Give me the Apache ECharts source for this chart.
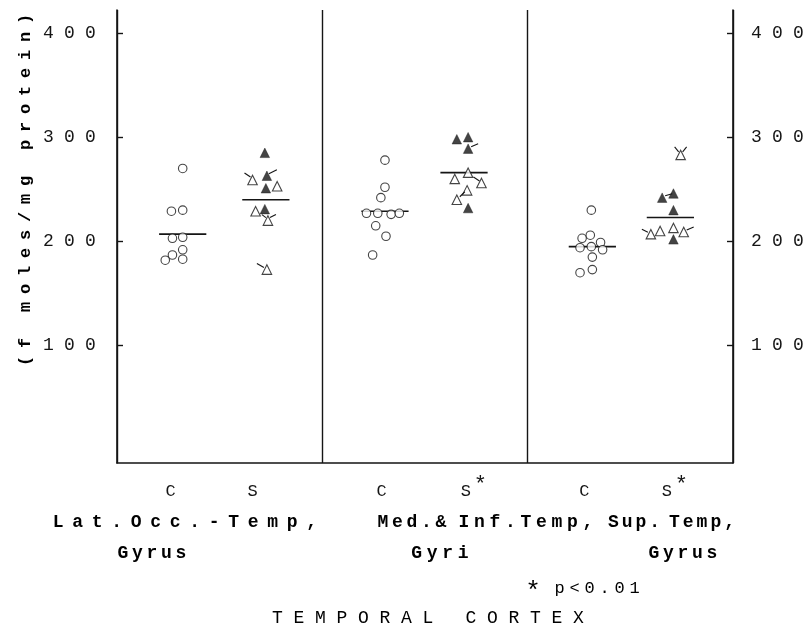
<!DOCTYPE html>
<html>
<head>
<meta charset="utf-8">
<script src="https://cdn.jsdelivr.net/npm/echarts@6/dist/echarts.min.js"></script>
<style>
  html, body { margin: 0; padding: 0; background: #fff; }
  #chart { width: 810px; height: 629px; }
</style>
</head>
<body>
<div id="chart"></div>
<script>
// group labels and where they sit on the x scale (0..6, two units per region)
const groupNames = ['C', 'S', 'C', 'S*', 'C', 'S*'];
const groupLabelX = [0.526, 1.325, 2.581, 3.466, 4.558, 5.425];
const groupCenters = [0.64, 1.45, 2.61, 3.38, 4.63, 5.39];
const groupMeans = [207, 240, 229, 266, 195, 223];
const yTicks = [100, 200, 300, 400];

const regionRow1 = ['Lat.Occ.-Temp,', 'Med.&', 'Inf.Temp,', 'Sup.', 'Temp,'];
const regionRow2 = ['Gyrus', 'Gyri', 'Gyrus'];
const yName = '(f moles/mg protein)';
const footNote = 'p<0.01';
const bottomTitle = 'TEMPORAL CORTEX';

// controls (open circles)
const c1Values = [270, 229, 230, 203, 204, 192, 187, 183, 182];
const c1Offsets = [0.00, -0.11, 0.00, -0.10, 0.00, 0.00, -0.10, 0.00, -0.17];
const c2Values = [278, 252, 242, 227, 227, 226, 227, 215, 205, 187];
const c2Offsets = [0.00, 0.00, -0.04, -0.18, -0.07, 0.06, 0.14, -0.09, 0.01, -0.12];
const c3Values = [230, 203, 206, 199, 194, 195, 192, 185, 170, 173];
const c3Offsets = [-0.01, -0.10, -0.02, 0.08, -0.12, -0.01, 0.10, 0.00, -0.12, 0.00];

// schizophrenics: filled and open triangles
const s1Filled = [285, 263, 251, 231];
const s1FilledOffsets = [-0.01, 0.01, 0.00, -0.01];
const s1Open = [259, 253, 229, 220, 173];
const s1OpenOffsets = [-0.13, 0.11, -0.10, 0.02, 0.01];
const s2Filled = [298, 300, 289, 232];
const s2FilledOffsets = [-0.07, 0.04, 0.04, 0.04];
const s2Open = [260, 266, 256, 249, 240];
const s2OpenOffsets = [-0.09, 0.04, 0.17, 0.03, -0.07];
const s3Filled = [242, 246, 230, 202];
const s3FilledOffsets = [-0.08, 0.03, 0.03, 0.03];
const s3Open = [207, 210, 213, 209, 283];
const s3OpenOffsets = [-0.19, -0.10, 0.03, 0.13, 0.10];

const ink = '#151515';
const font = 'Liberation Mono';
const pxPerX = 616 / 6;      // grid width / x range
const pxPerY = 453 / 434.5;  // grid height / y range

function pts(center, values, offsets) {
  return values.map((v, i) => [center + offsets[i], v]);
}
// typewriter look: every character gets its own fixed-width box
function spaced(s, cls) {
  return s.split('').map(ch => '{' + cls + '|' + ch + '}').join('');
}
const box = (w, size, bold, extra) => Object.assign({
  width: w, align: 'center', fontFamily: font, fontSize: size,
  fontWeight: bold ? 'bold' : 'normal', color: ink
}, extra || {});
const richChars = {
  d: box(21, 18, false),
  g: box(15, 17, false, { lineHeight: 16, verticalAlign: 'bottom' }),
  st: { width: 14, align: 'center', fontFamily: font, fontSize: 22, color: ink, lineHeight: 26, verticalAlign: 'top' },
  sp: { width: 1, lineHeight: 26, verticalAlign: 'top' },
  y: box(18, 17, true),
  r20: box(19.5, 18, true),
  r16: box(15.5, 18, true),
  r15: box(14.5, 18, true),
  r14: box(13.8, 18, true),
  t: box(21.5, 18, false),
  f: box(15, 17, false),
  fs: box(16, 26, false)
};

function groupLabel(name) {
  if (name.endsWith('*')) return spaced(name.slice(0, -1), 'g') + '{st|*}';
  return spaced(name, 'g') + '{sp| }';
}

const scatter = (name, data, symbol, filled) => ({
  name, type: 'scatter', data, symbol,
  symbolSize: symbol === 'circle' ? 8.5 : 9.5,
  itemStyle: filled
    ? { color: ink, borderColor: ink, borderWidth: 0.5 }
    : { color: '#fff', borderColor: ink, borderWidth: 1.1 },
  z: 3
});

const meanLines = groupMeans.map((m, i) => ({
  type: 'line', symbol: 'none', silent: true,
  data: [[groupCenters[i] - 0.23, m], [groupCenters[i] + 0.23, m]],
  lineStyle: { color: ink, width: 1.6 }, z: 2
}));

// little hand-drawn strokes some triangles carry: [point, from dx/dy, to dx/dy] in px
const s1F = pts(groupCenters[1], s1Filled, s1FilledOffsets);
const s1O = pts(groupCenters[1], s1Open, s1OpenOffsets);
const s2F = pts(groupCenters[3], s2Filled, s2FilledOffsets);
const s2O = pts(groupCenters[3], s2Open, s2OpenOffsets);
const s3F = pts(groupCenters[5], s3Filled, s3FilledOffsets);
const s3O = pts(groupCenters[5], s3Open, s3OpenOffsets);
const strokes = [
  [s1F[1], 2, -2, 10, -6], [s1O[0], -2, -3, -8, -7], [s1O[3], 2, -3, 8, -6],
  [s1O[3], -2, -3, -6, -6], [s1O[4], -3, -2, -10, -6],
  [s2F[2], 3, -2, 10, -5], [s2O[2], -2, -2, -8, -6], [s2O[4], 3, -3, 8, -8],
  [s3F[0], 3, -2, 10, -4], [s3O[0], -3, -2, -9, -5], [s3O[3], 3, -2, 10, -5],
  [s3O[4], -2, -3, -6, -8], [s3O[4], 2, -3, 6, -8]
].map(([p, ax, ay, bx, by]) => ({
  coords: [[p[0] + ax / pxPerX, p[1] - ay / pxPerY], [p[0] + bx / pxPerX, p[1] - by / pxPerY]]
}));

const chart = echarts.init(document.getElementById('chart'));

const textEl = (x, y, str, cls, rotation) => ({
  type: 'text', x, y, rotation: rotation || 0,
  style: { text: spaced(str, cls), rich: richChars, align: 'center', verticalAlign: 'middle' }
});

chart.setOption({
  animation: false,
  backgroundColor: '#fff',
  grid: { left: 117, right: 77, top: 10, bottom: 166 },
  xAxis: {
    type: 'value', min: 0, max: 6, interval: 2,
    axisLine: { onZero: false, lineStyle: { color: ink, width: 1.6 } },
    axisTick: { show: false },
    splitLine: { show: true, lineStyle: { color: ink, width: 1.4 } },
    axisLabel: {
      customValues: groupLabelX,
      margin: 11,
      formatter: v => {
        const i = groupLabelX.findIndex(p => Math.abs(p - v) < 1e-6);
        return i < 0 ? '' : groupLabel(groupNames[i]);
      },
      rich: richChars
    }
  },
  yAxis: [0, 1].map(k => ({
    type: 'value', min: -12.5, max: 422, position: k ? 'right' : 'left',
    axisLine: { show: true, onZero: false, lineStyle: { color: ink, width: 1.6 } },
    axisTick: { show: true, inside: true, length: 6, customValues: yTicks, lineStyle: { color: ink, width: 1.4 } },
    splitLine: { show: false },
    axisLabel: {
      customValues: yTicks, margin: k ? 13 : 16,
      formatter: v => spaced(String(v), 'd'),
      rich: richChars
    }
  })),
  series: [
    scatter('C1', pts(groupCenters[0], c1Values, c1Offsets), 'circle', false),
    scatter('S1 filled', s1F, 'triangle', true),
    scatter('S1 open', s1O, 'triangle', false),
    scatter('C2', pts(groupCenters[2], c2Values, c2Offsets), 'circle', false),
    scatter('S2 filled', s2F, 'triangle', true),
    scatter('S2 open', s2O, 'triangle', false),
    scatter('C3', pts(groupCenters[4], c3Values, c3Offsets), 'circle', false),
    scatter('S3 filled', s3F, 'triangle', true),
    scatter('S3 open', s3O, 'triangle', false),
    {
      type: 'lines', coordinateSystem: 'cartesian2d', silent: true, z: 4,
      lineStyle: { color: ink, width: 1.1, opacity: 1 },
      data: strokes
    }
  ].concat(meanLines),
  graphic: [
    textEl(26, 190, yName, 'y', Math.PI / 2),
    textEl(185, 522, regionRow1[0], 'r20'),
    textEl(412, 522, regionRow1[1], 'r15'),
    textEl(526, 522, regionRow1[2], 'r16'),
    textEl(634, 522, regionRow1[3], 'r14'),
    textEl(702, 522, regionRow1[4], 'r14'),
    textEl(152, 553, regionRow2[0], 'r15'),
    textEl(440, 553, regionRow2[1], 'r16'),
    textEl(683, 553, regionRow2[2], 'r15'),
    textEl(533, 592, '*', 'fs'),
    textEl(597, 588, footNote, 'f'),
    textEl(428, 618, bottomTitle, 't')
  ]
});
</script>
</body>
</html>
